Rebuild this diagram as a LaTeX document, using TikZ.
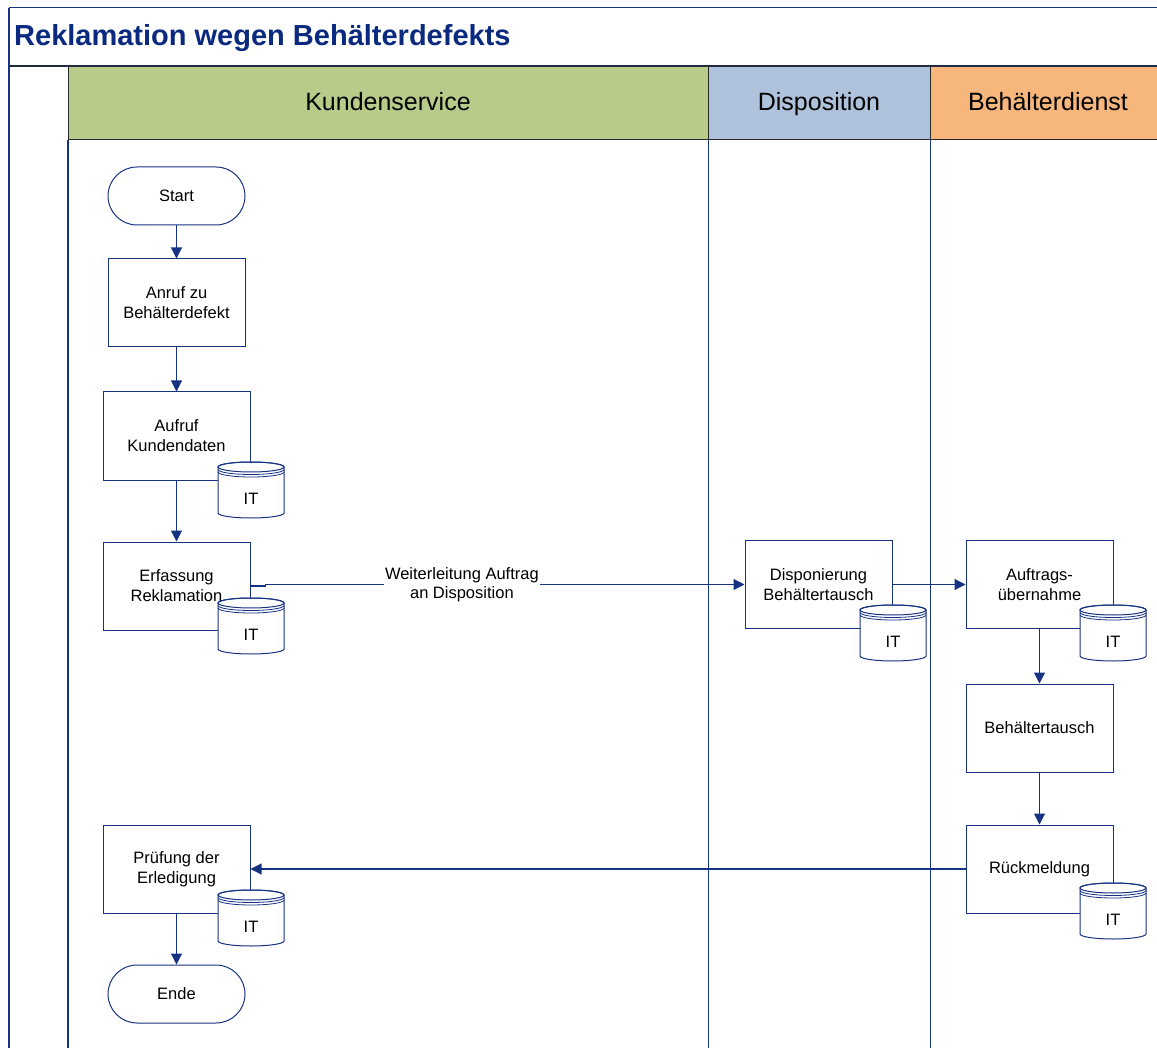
\documentclass[tikz,border=0pt]{standalone}
\usepackage{fontspec}
\setmainfont{Liberation Sans}
\usepackage{xcolor}
\usetikzlibrary{shapes.geometric,arrows.meta,positioning,calc}
\definecolor{navy}{RGB}{22,50,130}
\definecolor{titleblue}{RGB}{10,42,128}
\definecolor{kundengreen}{RGB}{183,204,138}
\definecolor{dispoblue}{RGB}{175,194,219}
\definecolor{dienstorange}{RGB}{247,182,124}
\definecolor{headline}{RGB}{40,40,40}

% IT data store: name, x, y (centre)
\newcommand{\itstore}[3]{%
\filldraw [fill=white, draw=navy, line width=1pt] (#2-33,#3-23) -- (#2-33,#3+23) arc[start angle=180, end angle=0, x radius=33, y radius=5] -- (#2+33,#3-23) arc[start angle=0, end angle=-180, x radius=33, y radius=5] -- cycle;
\draw [navy, line width=1pt] (#2,#3-23) ellipse [x radius=33, y radius=5];
\draw [navy, line width=0.8pt] (#2-33,#3-20.5) arc[start angle=180, end angle=0, x radius=33, y radius=5];
\draw [navy, line width=0.8pt] (#2-33,#3-18) arc[start angle=180, end angle=0, x radius=33, y radius=5];
\node (#1) [boxtext] at (#2,#3+9) {IT};
}

\begin{document}
\begin{tikzpicture}[x=1pt, y=-1pt,
  boxtext/.style={font=\fontsize{16.5}{20}\selectfont, align=center, inner sep=0pt},
  process/.style={rectangle, draw=navy, line width=1pt, fill=white, minimum width=147pt, minimum height=88pt, boxtext},
  terminal/.style={rectangle, rounded corners=29pt, draw=navy, line width=1pt, fill=white, minimum width=137pt, minimum height=58pt, boxtext},
  lanetext/.style={font=\fontsize{25}{30}\selectfont, anchor=base},
  flow/.style={draw=navy, line width=1.1pt, -{Triangle[length=11pt,width=11pt]}},
  edgetext/.style={fill=white, inner sep=1.5pt, font=\fontsize{16.5}{18.5}\selectfont, align=center}]
\useasboundingbox (0,0) rectangle (1157,1048);

% title and lane headers
\fill [kundengreen] (68,67) rectangle (708,140);
\fill [dispoblue] (708,67) rectangle (930,140);
\fill [dienstorange] (930,67) rectangle (1157,140);
\draw [navy, line width=1pt] (9,8) -- (1157,8);
\draw [navy, line width=1.3pt] (9,8) -- (9,1048);
\draw [headline!70!navy, line width=2pt] (9,66) -- (1157,66);
\draw [headline, line width=1pt] (68,140) -- (1157,140);
\draw [headline, line width=1pt] (68,66) -- (68,140);
\draw [headline, line width=1pt] (708,66) -- (708,140);
\draw [headline, line width=1pt] (930,66) -- (930,140);
\draw [navy, line width=1.3pt] (68,140) -- (68,1048);
\draw [navy, line width=1pt] (708,140) -- (708,1048);
\draw [navy, line width=1pt] (930,140) -- (930,1048);
\node (title) [anchor=base west, text=titleblue, font=\fontsize{29}{34}\selectfont\bfseries, inner sep=0pt] at (14,46) {Reklamation wegen Behälterdefekts};
\node (kunden) [lanetext] at (388,111) {Kundenservice};
\node (dispolane) [lanetext] at (819,111) {Disposition};
\node (dienst) [lanetext] at (1048,111) {Behälterdienst};

% Kundenservice
\node (start) [terminal] at (176.5,196) {Start};
\node (anruf) [process, minimum width=137pt] at (176.5,303) {Anruf zu\\Behälterdefekt};
\node (aufruf) [process] at (176.5,436) {Aufruf\\Kundendaten};
\node (erfassung) [process] at (176.5,586) {Erfassung\\Reklamation};
\node (pruefung) [process] at (176.5,869) {Prüfung der\\Erledigung};
\node (ende) [terminal] at (176.5,994) {Ende};

% Disposition
\node (dispo) [process] at (818.5,584.5) {Disponierung\\Behältertausch};

% Behälterdienst
\node (auftrag) [process] at (1039.5,584.5) {Auftrags-\\übernahme};
\node (tausch) [process] at (1039.5,728) {Behältertausch};
\node (rueck) [process] at (1039.5,869) {Rückmeldung};

\itstore{itaufruf}{251}{490}
\itstore{iterfassung}{251}{626}
\itstore{itpruefung}{251}{918}
\itstore{itdispo}{893}{633}
\itstore{itauftrag}{1113}{633}
\itstore{itrueck}{1113}{911}

\draw [flow] (start) -- (anruf);
\draw [flow] (anruf) -- (aufruf);
\draw [flow] (aufruf) -- (erfassung);
\draw [flow] (erfassung.east) -- ++(15,0) |- (dispo.west) node [pos=0.705, edgetext] {Weiterleitung Auftrag\\an Disposition};
\draw [flow] (dispo) -- (auftrag);
\draw [flow] (auftrag) -- (tausch);
\draw [flow] (tausch) -- (rueck);
\draw [flow] (rueck) -- (pruefung);
\draw [flow] (pruefung) -- (ende);
\end{tikzpicture}
\end{document}
